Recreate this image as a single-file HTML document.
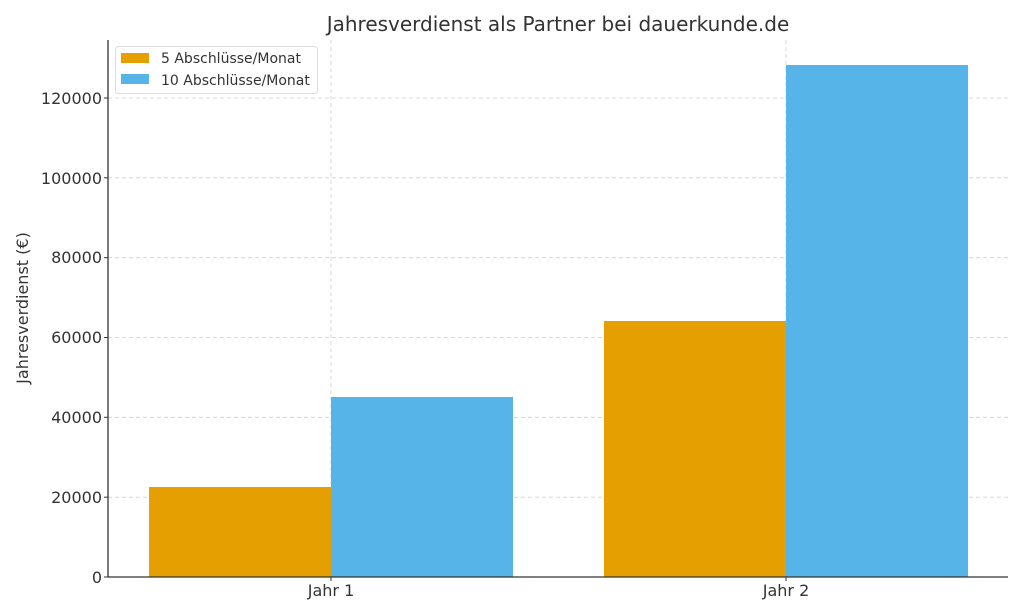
<!DOCTYPE html>
<html><head><meta charset="utf-8"><style>body{margin:0;background:#fff}svg{display:block}text{font-family:"DejaVu Sans","Liberation Sans",sans-serif;fill:#333}</style></head><body>
<svg width="1024" height="614" xmlns="http://www.w3.org/2000/svg">
<text x="558" y="31" font-size="20" text-anchor="middle">Jahresverdienst als Partner bei dauerkunde.de</text>
<g stroke="#cfcfcf" stroke-dasharray="4,3" stroke-width="0.8">
<line x1="108" x2="1008" y1="497.2" y2="497.2"/><line x1="108" x2="1008" y1="417.3" y2="417.3"/>
<line x1="108" x2="1008" y1="337.5" y2="337.5"/><line x1="108" x2="1008" y1="257.7" y2="257.7"/>
<line x1="108" x2="1008" y1="177.8" y2="177.8"/><line x1="108" x2="1008" y1="98" y2="98"/>
<line x1="331" x2="331" y1="40" y2="577"/><line x1="786" x2="786" y1="40" y2="577"/>
</g>
<rect x="149" y="487" width="182" height="90" fill="#e69f00"/>
<rect x="331" y="397" width="182" height="180" fill="#56b4e9"/>
<rect x="604" y="321" width="182" height="256" fill="#e69f00"/>
<rect x="786" y="65" width="182" height="512" fill="#56b4e9"/>
<line x1="108" y1="40" x2="108" y2="577" stroke="#333" stroke-width="1.3"/>
<line x1="108" y1="577" x2="1008" y2="577" stroke="#333" stroke-width="1.3"/>
<g font-size="16" text-anchor="end">
<text x="102" y="583">0</text><text x="102" y="503">20000</text><text x="102" y="423">40000</text>
<text x="102" y="343">60000</text><text x="102" y="263">80000</text><text x="102" y="184">100000</text><text x="102" y="104">120000</text>
</g>
<g stroke="#333"><line x1="104" x2="108" y1="497.2" y2="497.2"/><line x1="104" x2="108" y1="417.3" y2="417.3"/><line x1="104" x2="108" y1="337.5" y2="337.5"/><line x1="104" x2="108" y1="257.7" y2="257.7"/><line x1="104" x2="108" y1="177.8" y2="177.8"/><line x1="104" x2="108" y1="98" y2="98"/><line x1="104" x2="108" y1="577" y2="577"/><line x1="331" x2="331" y1="577" y2="581"/><line x1="786" x2="786" y1="577" y2="581"/></g>
<text x="331" y="596" font-size="16" text-anchor="middle">Jahr 1</text>
<text x="786" y="596" font-size="16" text-anchor="middle">Jahr 2</text>
<text transform="translate(28,308) rotate(-90)" font-size="16" text-anchor="middle">Jahresverdienst (€)</text>
<rect x="115.5" y="46.5" width="202" height="47" rx="3" fill="#fff" stroke="#ddd"/>
<rect x="121" y="53" width="28" height="10" fill="#e69f00"/>
<rect x="121" y="74" width="28" height="10" fill="#56b4e9"/>
<text x="161" y="63" font-size="14">5 Abschlüsse/Monat</text>
<text x="161" y="85" font-size="14">10 Abschlüsse/Monat</text>
</svg>
</body></html>
